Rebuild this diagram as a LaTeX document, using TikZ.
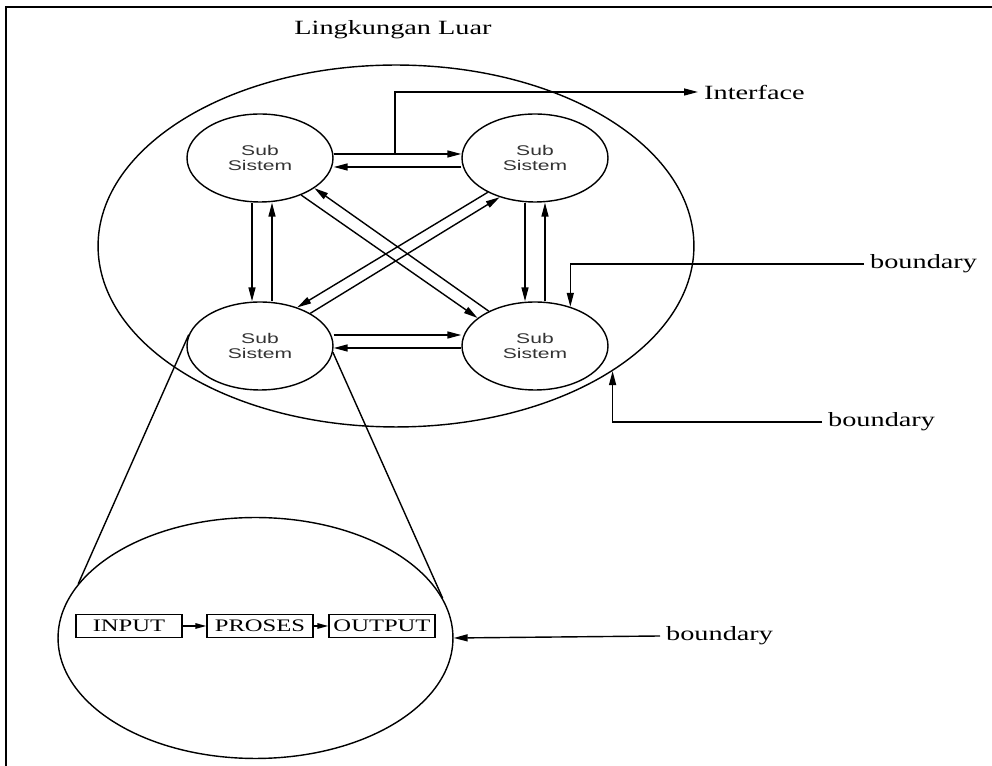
\documentclass[tikz,border=0pt]{standalone}
\usepackage{fontspec}
\setmainfont{Liberation Serif}
\newfontfamily\lblfont[FakeStretch=1.4]{Liberation Serif}
\newfontfamily\subfont[FakeStretch=1.5]{Liberation Sans}
\usetikzlibrary{arrows.meta,shapes.geometric}

\begin{document}
\begin{tikzpicture}[
  x=0.02cm, y=-0.02cm,
  >={Triangle[length=2.8mm,width=1.4mm]},
  sub/.style={draw, ellipse, line width=0.8pt, inner sep=0pt,
              minimum width=2.92cm, minimum height=1.76cm,
              align=center, text=black!80,
              font=\subfont\fontsize{8}{8.5}\selectfont},
  bnd/.style={draw, ellipse, line width=0.8pt, inner sep=0pt},
  blk/.style={draw, line width=0.8pt, inner sep=0pt,
              minimum width=2.12cm, minimum height=0.46cm,
              font=\lblfont\fontsize{10}{11}\selectfont},
  lbl/.style={font=\lblfont\fontsize{11.5}{13}\selectfont, anchor=west},
  arr/.style={->, line width=0.8pt},
  sarr/.style={-{Triangle[length=2.2mm,width=1.1mm]}, line width=0.8pt},
]
\useasboundingbox (0,0) rectangle (992,766);

% ---- frame ----
\draw[line width=1.4pt] (992,7) -| (6,766);

% ---- environment + system boundary ----
\node[font=\lblfont\fontsize{11.5}{13}\selectfont] (env) at (393,30) {Lingkungan Luar};
\node[bnd, minimum width=11.92cm, minimum height=7.24cm] (outer) at (396,246) {};

% ---- sub systems ----
\node[sub] (tl) at (260,158) {Sub\\Sistem};
\node[sub] (tr) at (535,158) {Sub\\Sistem};
\node[sub] (bl) at (260,346) {Sub\\Sistem};
\node[sub] (br) at (535,346) {Sub\\Sistem};

% ---- horizontal pairs ----
\draw[arr] ([yshift=0.08cm]tl.east)  -- ([yshift=0.08cm]tr.west);
\draw[arr] ([yshift=-0.18cm]tr.west) -- ([yshift=-0.18cm]tl.east);
\draw[arr] ([yshift=0.22cm]bl.east)  -- ([yshift=0.22cm]br.west);
\draw[arr] ([yshift=-0.04cm]br.west) -- ([yshift=-0.04cm]bl.east);

% ---- vertical pairs ----
\draw[arr] ([xshift=-0.16cm]tl.south) -- ([xshift=-0.16cm]bl.north);
\draw[arr] ([xshift=0.24cm]bl.north)  -- ([xshift=0.24cm]tl.south);
\draw[arr] ([xshift=-0.2cm]tr.south)  -- ([xshift=-0.2cm]br.north);
\draw[arr] ([xshift=0.2cm]br.north)   -- ([xshift=0.2cm]tr.south);

% ---- diagonals ----
\draw[arr] (tl.-42) -- (br.154);
\draw[arr] (br.143) -- (tl.-29);
\draw[arr] (tr.216) -- (bl.46);
\draw[arr] (bl.33)  -- (tr.228);

% ---- interface ----
\node[lbl] (iface) at (698,92) {Interface};
\coordinate (jn) at (395,154);
\draw[arr] (jn) |- (iface.west);

% ---- boundary labels ----
\node[lbl] (b1) at (864,264) {boundary};
\node[lbl] (b2) at (822,422) {boundary};
\draw[arr] (b1.west) -| (br.48);
\draw[arr] (b2.west) -| (outer.-30);

% ---- zoomed sub system ----
\node[bnd, minimum width=7.9cm, minimum height=4.82cm] (detail) at (255.5,638) {};
\draw[line width=0.8pt] (bl.171) -- (detail.163);
\draw[line width=0.8pt] (bl.-5)  -- (detail.12);

\node[blk] (inp) at (129,626) {INPUT};
\node[blk] (pro) at (260,626) {PROSES};
\node[blk] (out) at (382,626) {OUTPUT};
\draw[sarr] (inp) -- (pro);
\draw[sarr] (pro) -- (out);

\node[lbl] (b3) at (660,636) {boundary};
\draw[arr] (b3.west) -- (detail.east);

\end{tikzpicture}
\end{document}
